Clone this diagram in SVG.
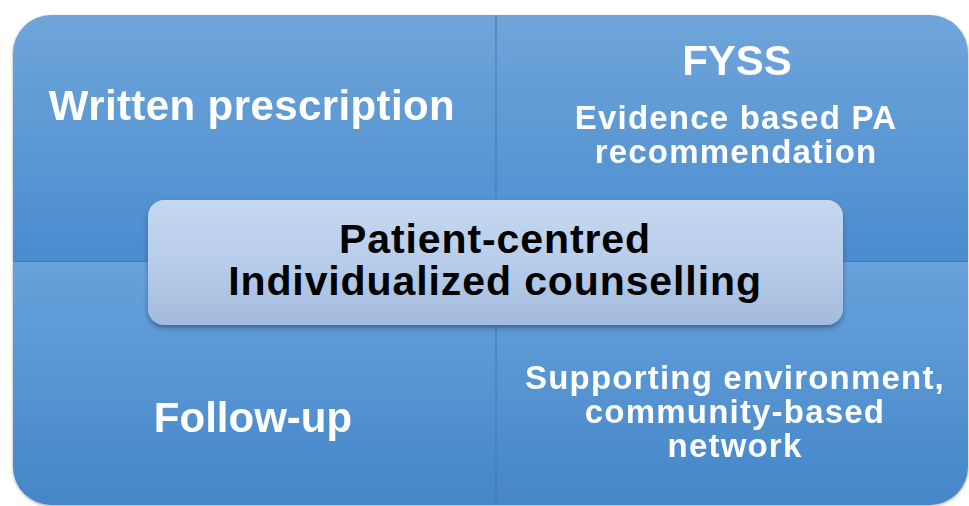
<svg xmlns="http://www.w3.org/2000/svg" width="969" height="506" viewBox="0 0 969 506">
  <defs>
    <linearGradient id="gTop" x1="0" y1="0" x2="0" y2="1">
      <stop offset="0" stop-color="#6fa5da"/>
      <stop offset="1" stop-color="#4a8ccf"/>
    </linearGradient>
    <linearGradient id="gBot" x1="0" y1="0" x2="0" y2="1">
      <stop offset="0" stop-color="#68a2dc"/>
      <stop offset="1" stop-color="#4586c8"/>
    </linearGradient>
    <linearGradient id="gCenter" x1="0" y1="0" x2="0" y2="1">
      <stop offset="0" stop-color="#c5d8f0"/>
      <stop offset="0.5" stop-color="#b8cdea"/>
      <stop offset="1" stop-color="#a2badc"/>
    </linearGradient>
    <filter id="shadow" x="-10%" y="-10%" width="120%" height="130%">
      <feDropShadow dx="0" dy="3" stdDeviation="2.5" flood-color="#1e3a5f" flood-opacity="0.55"/>
    </filter>
    <filter id="outerShadow" x="-5%" y="-5%" width="110%" height="110%">
      <feDropShadow dx="0" dy="1" stdDeviation="1.5" flood-color="#000" flood-opacity="0.35"/>
    </filter>
  </defs>
  <style>
    .w { font-family: "Liberation Sans", Arial, Helvetica, sans-serif; font-weight: bold; fill: #ffffff; text-anchor: middle; }
    .s { font-size: 33px; letter-spacing: 1.2px; }
    .b { font-family: "Liberation Sans", Arial, Helvetica, sans-serif; font-weight: bold; fill: #000000; text-anchor: middle; font-size: 41px; letter-spacing: 0.9px; }
    .div { stroke: #3f7bb7; stroke-width: 1; }
  </style>
  <rect width="969" height="506" fill="#ffffff"/>

  <g id="quadrants" filter="url(#outerShadow)">
    <g id="q-top-left">
      <path d="M13,53 A38,38 0 0 1 51,15 L496,15 L496,261 L13,261 Z" fill="url(#gTop)"/>
      <text class="w" x="252" y="120" font-size="42" letter-spacing="0.4">Written prescription</text>
    </g>
    <g id="q-top-right">
      <path d="M496,15 L930,15 A38,38 0 0 1 968,53 L968,261 L496,261 Z" fill="url(#gTop)"/>
      <text class="w" x="737" y="75" font-size="42">FYSS</text>
      <text class="w s" x="736" y="129">Evidence based PA</text>
      <text class="w s" x="736" y="163">recommendation</text>
    </g>
    <g id="q-bottom-left">
      <path d="M13,262 L496,262 L496,505 L51,505 A38,38 0 0 1 13,467 Z" fill="url(#gBot)"/>
      <text class="w" x="253" y="432" font-size="42">Follow-up</text>
    </g>
    <g id="q-bottom-right">
      <path d="M496,262 L968,262 L968,467 A38,38 0 0 1 930,505 L496,505 Z" fill="url(#gBot)"/>
      <text class="w s" x="735" y="389">Supporting environment,</text>
      <text class="w s" x="735" y="423">community-based</text>
      <text class="w s" x="735" y="457">network</text>
    </g>
  </g>

  <g id="dividers">
    <line class="div" x1="496" y1="15" x2="496" y2="505"/>
    <line class="div" x1="13" y1="261.5" x2="968" y2="261.5" stroke="#3d78b3"/>
  </g>

  <g id="center">
    <rect x="148" y="200" width="695" height="125" rx="16" ry="16" fill="url(#gCenter)" filter="url(#shadow)"/>
    <text class="b" x="495" y="253">Patient-centred</text>
    <text class="b" x="495" y="295">Individualized counselling</text>
  </g>
</svg>
